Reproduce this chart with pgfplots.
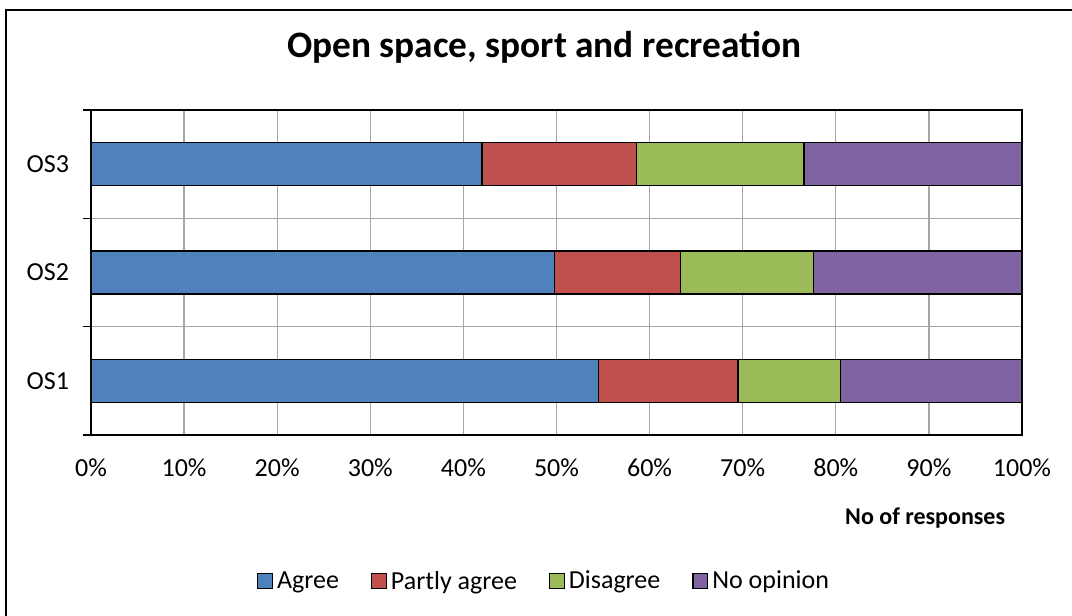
\documentclass[border=0pt]{standalone}
\usepackage{fontspec}
\setmainfont{Carlito}
\usepackage{pgfplots}
\pgfplotsset{compat=1.18}

\definecolor{agree}{HTML}{4F81BD}
\definecolor{partly}{HTML}{C0504D}
\definecolor{disagree}{HTML}{9BBB59}
\definecolor{noop}{HTML}{8064A2}
\definecolor{gridgray}{HTML}{A6A6A6}

\begin{document}
\begin{tikzpicture}
% picture is 1072 x 616 px, 1px = 0.75pt
\useasboundingbox (0,0) rectangle (804pt,-462pt);
\draw[line width=1pt] (4.5pt,-462pt) -- (4.5pt,-7.5pt) -- (804pt,-7.5pt);
\begin{axis}[
  at={(68.25pt,-326.25pt)}, anchor=south west,
  scale only axis,
  width=698.25pt, height=243.75pt,
  xbar stacked,
  bar width=32.25pt,
  xmin=0, xmax=100,
  ymin=-0.5, ymax=2.5,
  axis line style={line width=1.1pt},
  xtick={0,10,...,100},
  xticklabels={0\%,10\%,20\%,30\%,40\%,50\%,60\%,70\%,80\%,90\%,100\%},
  xmajorgrids=true,
  major x tick style={draw=none},
  ytick={-0.5,0.5,1.5,2.5},
  yticklabels={},
  ytick pos=left,
  ymajorgrids=true,
  grid style={gridgray, line width=1pt},
  major y tick style={black, line width=1.1pt},
  tick align=outside,
  major tick length=6pt,
  extra y ticks={0,1,2},
  extra y tick labels={OS1,OS2,OS3},
  extra y tick style={grid=none, major tick length=0pt, yticklabel style={xshift=-13pt}},
  ticklabel style={font=\fontsize{19.5}{22}\selectfont},
  xticklabel style={yshift=-8pt},
  title={Open space, sport and recreation},
  title style={font=\bfseries\fontsize{28}{32}\selectfont, at={(axis description cs:0.487,1)}, anchor=center, yshift=41pt},
  xlabel={No of responses},
  xlabel style={font=\bfseries\fontsize{18}{21}\selectfont, at={(axis description cs:0.896,0)}, anchor=center, yshift=-62pt},
  legend columns=4,
  legend style={draw=none, fill=none, at={(axis description cs:0.487,0)}, anchor=center, yshift=-109.5pt,
    font=\fontsize{19.5}{22}\selectfont, /tikz/every even column/.append style={column sep=22pt},
    /tikz/every odd column/.append style={column sep=1pt}},
  legend image code/.code={\draw[#1, draw=black, line width=1pt] (0pt,-5.5pt) rectangle (11pt,5.5pt);},
]
\addplot[fill=agree, draw=black, line width=1.1pt] coordinates {(54.5,0) (49.8,1) (42.0,2)};
\addplot[fill=partly, draw=black, line width=1.1pt] coordinates {(15.0,0) (13.5,1) (16.6,2)};
\addplot[fill=disagree, draw=black, line width=1.1pt] coordinates {(11.0,0) (14.3,1) (18.0,2)};
\addplot[fill=noop, draw=black, line width=1.1pt] coordinates {(19.5,0) (22.4,1) (23.4,2)};
\legend{Agree, Partly agree, Disagree, No opinion}
\end{axis}
\end{tikzpicture}
\end{document}
